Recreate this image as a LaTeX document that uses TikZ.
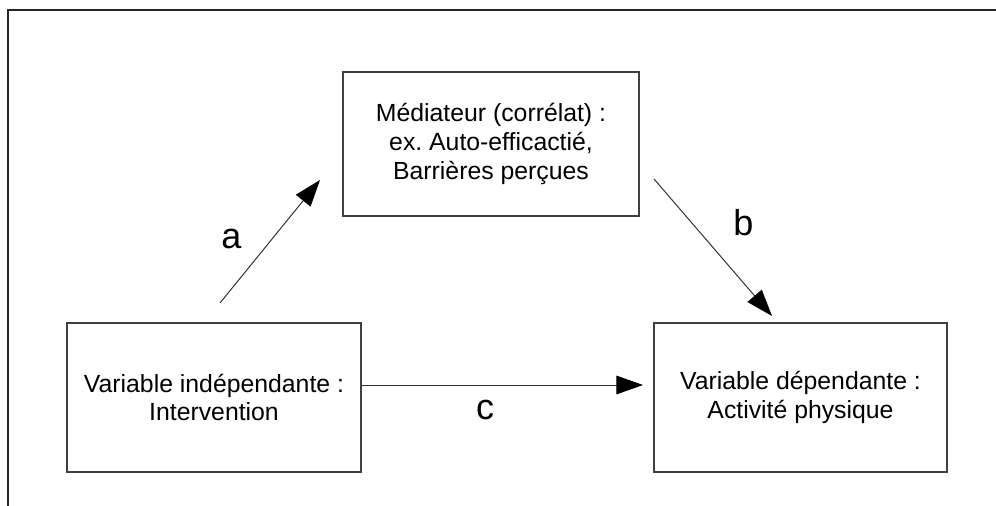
\documentclass[tikz,border=0pt]{standalone}
\usepackage{fontspec}
\setmainfont{Liberation Sans}
\usetikzlibrary{arrows.meta}
\frenchspacing

\tikzset{
  varbox/.style={draw=black!75, line width=1.1pt, align=center, inner sep=0pt,
    font=\fontsize{18.6}{21.5}\selectfont},
  pathlabel/.style={inner sep=0pt, font=\fontsize{27}{30}\selectfont},
  flowarrow/.style={draw=black!80, line width=0.75pt,
    -{Triangle[length=20pt,width=14pt,fill=black,color=black]}},
}

\begin{document}
\begin{tikzpicture}[x=0.75pt,y=0.75pt,yscale=-1,xscale=1]
\useasboundingbox (0,0) rectangle (996,506);

% Frame
\draw [black!85, line width=1.5pt] (8,506) -- (8,10.5) -- (996,10.5);

% Boxes
\node [varbox, minimum width=222pt, minimum height=108pt] (mediator) at (491,144)
  {Médiateur (corrélat) :\\ex. Auto-efficactié,\\Barrières perçues};
\node [varbox, minimum width=220.5pt, minimum height=111.75pt] (indep) at (214,397.5)
  {Variable indépendante :\\Intervention};
\node [varbox, minimum width=220pt, minimum height=111.75pt] (dep) at (800.5,397.5)
  {Variable dépendante :\\Activité physique};

% Arrow ends
\coordinate (a start) at (220,303);
\coordinate (a end) at (320,180);
\coordinate (b start) at (654,179);
\coordinate (b end) at (772,316);
\coordinate (c end) at (643,385);

% Arrows
\draw [flowarrow] (a start) -- (a end);
\draw [flowarrow] (b start) -- (b end);
\draw [flowarrow] (indep.east |- c end) -- (c end);

% Labels
\node [pathlabel] (label a) at (231.5,238.5) {a};
\node [pathlabel] (label b) at (743.5,223) {b};
\node [pathlabel] (label c) at (485,410) {c};
\end{tikzpicture}
\end{document}
